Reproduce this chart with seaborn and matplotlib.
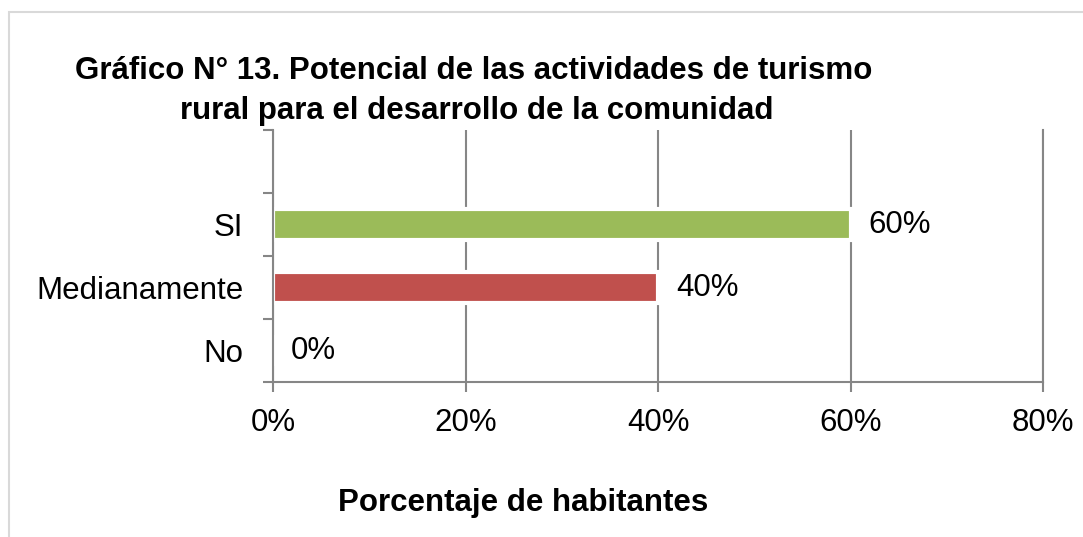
import numpy as np
import pandas as pd
import matplotlib
matplotlib.use("Agg")
import matplotlib.pyplot as plt
import seaborn as sns
from matplotlib.ticker import PercentFormatter, FixedLocator, NullFormatter
from matplotlib.patches import Rectangle

# data
categorias = ["SI", "Medianamente", "No"]
porcentajes = [0.60, 0.40, 0.0]
etiquetas = ["60%", "40%", "0%"]
colores = ["#9BBB59", "#C0504D", "#4F81BD"]
xticks = [0.0, 0.2, 0.4, 0.6, 0.8]

df = pd.DataFrame({"categoria": categorias, "valor": porcentajes})

sns.set_style("white")
plt.rcParams["font.family"] = ["Liberation Sans", "DejaVu Sans"]
plt.rcParams["text.color"] = "black"

fs = 22.5

fig = plt.figure(figsize=(10.83, 5.37), dpi=100)
ax = fig.add_axes([273 / 1083, 155 / 537, 770 / 1083, 252 / 537])

sns.barplot(data=df, x="valor", y="categoria", hue="categoria",
            palette=colores, legend=False, ax=ax, width=0.5,
            edgecolor="white", linewidth=3, saturation=1)

ax.set_xlim(0, 0.8)
ax.set_ylim(2.5, -1.5)

gris = "#868686"
ax.set_xticks(xticks)
ax.xaxis.set_major_formatter(PercentFormatter(1.0, decimals=0))
ax.xaxis.grid(True, color=gris, linewidth=1.5)
ax.set_axisbelow(True)

# y: tick marks at slot boundaries, labels at centres
ax.yaxis.set_major_locator(FixedLocator([-1.5, -0.5, 0.5, 1.5, 2.5]))
ax.yaxis.set_major_formatter(NullFormatter())
ax.yaxis.set_minor_locator(FixedLocator([0, 1, 2]))
ax.set_yticklabels(categorias, minor=True)
ax.tick_params(axis="y", which="major", length=7, width=1.5, color=gris, direction="out")
ax.tick_params(axis="y", which="minor", length=0, pad=21.5, labelsize=fs, labelcolor="black")
ax.tick_params(axis="x", which="major", length=7, width=1.5, color=gris,
               direction="out", pad=11.5, labelsize=fs, labelcolor="black")
ax.tick_params(left=True, bottom=True)

for side in ["left", "bottom", "right"]:
    ax.spines[side].set_color(gris)
    ax.spines[side].set_linewidth(1.5)
ax.spines["top"].set_visible(False)

ax.set_xlabel("")
ax.set_ylabel("")

for cont, lab in zip(ax.containers, etiquetas):
    ax.bar_label(cont, labels=[lab], padding=13, fontsize=fs, color="black")

fig.text(75 / 1083, 1 - 71 / 537, "Gráfico N\u00b0 13. Potencial de las actividades de turismo",
         fontsize=fs, fontweight="bold", va="center", ha="left")
fig.text(180 / 1083, 1 - 111 / 537, "rural para el desarrollo de la comunidad",
         fontsize=fs, fontweight="bold", va="center", ha="left")
fig.text(523 / 1083, 1 - 503 / 537, "Porcentaje de habitantes",
         fontsize=fs, fontweight="bold", va="center", ha="center")

fig.patches.append(Rectangle((9 / 1083, -0.1), 1.2, 1 - 12 / 537 + 0.1,
                             transform=fig.transFigure, fill=False,
                             edgecolor="#D9D9D9", linewidth=1.5))

fig.savefig("out.png", dpi=100)
